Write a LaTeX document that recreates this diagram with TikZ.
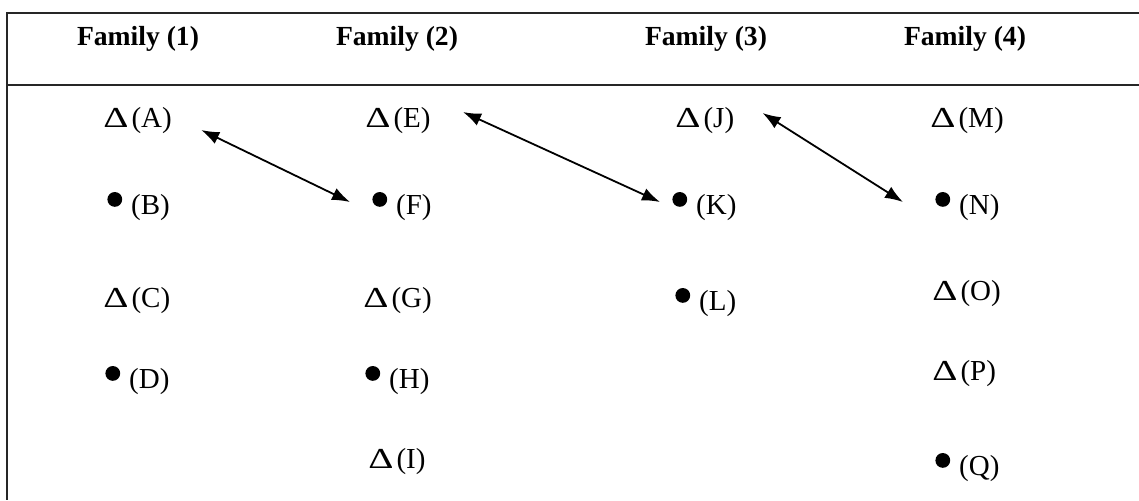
\documentclass[tikz,border=0pt]{standalone}
\usepackage{fontspec}
\setmainfont{Liberation Serif}
\usetikzlibrary{arrows.meta,calc}
\newcommand{\dotsym}{\tikz[baseline=-7.3pt]\fill (0,0) circle (3.7pt);\hspace{4.5pt}}
\newcommand{\tri}{\scalebox{1.35}[1]{Δ}\hspace{1.5pt}}
\tikzset{
  rule/.style={line width=0.8pt, draw=black!85},
  item/.style={anchor=base west, inner sep=0pt, font=\fontsize{14.5}{17.4}\selectfont},
  head/.style={anchor=base, inner sep=0pt, font=\fontsize{13.8}{16.5}\selectfont\bfseries},
  link/.style={line width=0.9pt, {Latex[length=9pt,width=6.5pt]}-{Latex[length=9pt,width=6.5pt]}}
}
\begin{document}
\begin{tikzpicture}[x=0.5pt, y=-0.5pt]
\useasboundingbox (0,0) rectangle (1139,500);
% table rules
\coordinate (tl) at (7,13);
\coordinate (tr) at (1139,13);
\coordinate (hl) at (7,85);
\coordinate (hr) at (1139,85);
\coordinate (bl) at (7,500);
\draw[rule] (tr) -- (tl) -- (bl);
\draw[rule] (hl) -- (hr);
% headers
\node[head] (h1) at (138,45) {Family (1)};
\node[head] (h2) at (397,45) {Family (2)};
\node[head] (h3) at (706,45) {Family (3)};
\node[head] (h4) at (965,45) {Family (4)};
% family 1
\node[item] (A) at (103,127) {\tri(A)};
\node[item] (B) at (107,214) {\dotsym(B)};
\node[item] (C) at (103,307) {\tri(C)};
\node[item] (D) at (105,388) {\dotsym(D)};
% family 2
\node[item] (E) at (365,127) {\tri(E)};
\node[item] (F) at (372,214) {\dotsym(F)};
\node[item] (G) at (363,307) {\tri(G)};
\node[item] (H) at (365,388) {\dotsym(H)};
\node[item] (I) at (368,468) {\tri(I)};
% family 3
\node[item] (J) at (675,127) {\tri(J)};
\node[item] (K) at (672,214) {\dotsym(K)};
\node[item] (L) at (675,310) {\dotsym(L)};
% family 4
\node[item] (M) at (930,127) {\tri(M)};
\node[item] (N) at (935,214) {\dotsym(N)};
\node[item] (O) at (932,300) {\tri(O)};
\node[item] (P) at (932,380) {\tri(P)};
\node[item] (Q) at (935,475) {\dotsym(Q)};
% links
\draw[link] ($(A.base east)+(29,3)$) -- ($(F.base west)+(-22,-12)$);
\draw[link] ($(E.base east)+(32,-15)$) -- ($(K.base west)+(-12,-12)$);
\draw[link] ($(J.base east)+(28,-14)$) -- ($(N.base west)+(-32,-12)$);
\end{tikzpicture}
\end{document}
